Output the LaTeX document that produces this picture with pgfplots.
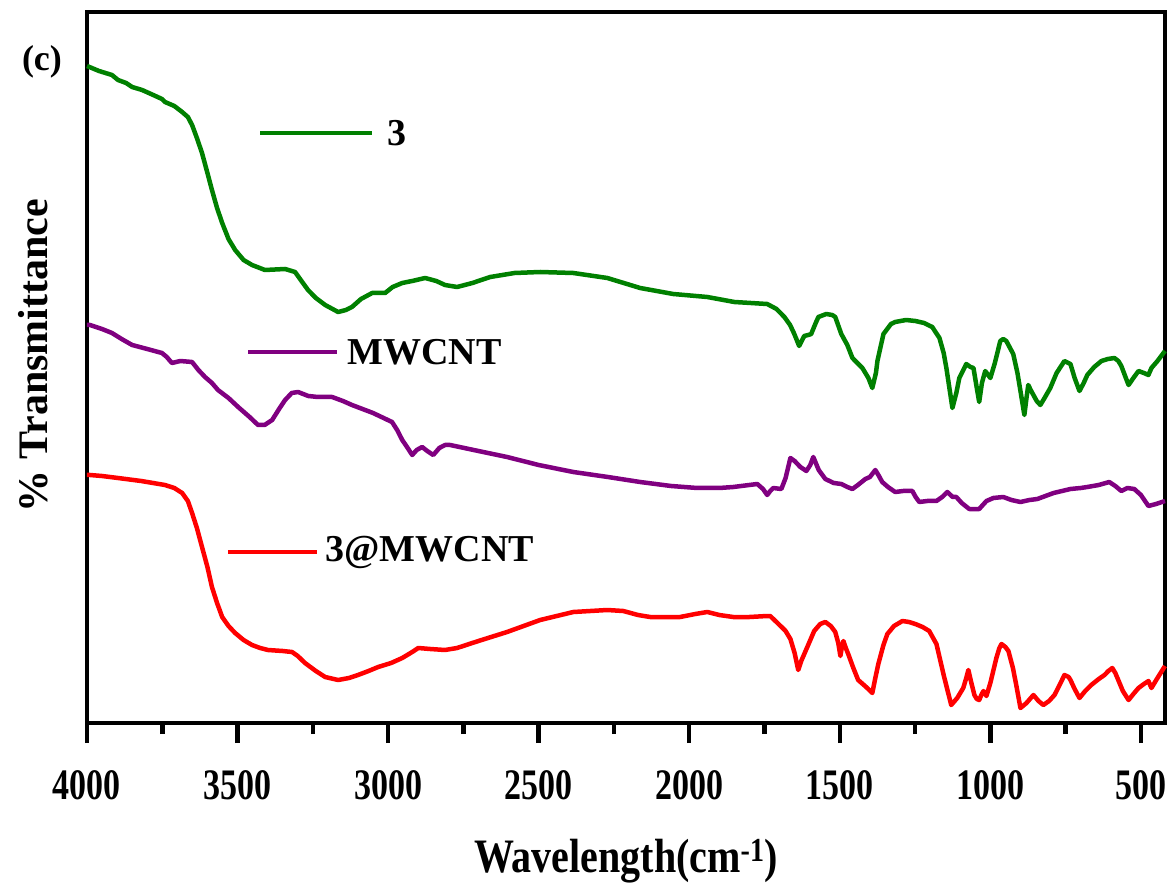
\documentclass[border=0pt]{standalone}
\usepackage{pgfplots}
\pgfplotsset{compat=1.18}
\usepackage{fontspec}
\setmainfont{Liberation Serif}

\definecolor{spgreen}{RGB}{0,128,0}
\definecolor{sppurple}{RGB}{128,0,128}
\definecolor{spred}{RGB}{255,0,0}

\begin{document}
\begin{tikzpicture}
\useasboundingbox (-87pt,-160pt) rectangle (1087pt,723pt);
\begin{axis}[
  scale only axis,
  width=1078pt, height=711pt,
  x dir=reverse,
  xmin=420, xmax=4000, ymin=0, ymax=711,
  xtick={500,1000,...,4000},
  minor x tick num=1,
  ytick=\empty,
  xtick pos=bottom,
  tick align=outside,
  major tick length=20pt,
  minor tick length=11pt,
  every tick/.style={black, line width=4.5pt},
  axis line style={line width=4.5pt},
  scaled x ticks=false,
  /pgf/number format/1000 sep={},
  /pgf/number format/assume math mode=true,
  xticklabel={\scalebox{1}[1.28]{\pgfmathprintnumber{\tick}}},
  ticklabel style={font=\fontsize{34}{34}\selectfont\bfseries},
  xticklabel style={yshift=-24pt},
  clip=false,
  every axis plot/.append style={line width=4.5pt, line join=round},
]
% compound 3
\addplot[spgreen] coordinates {
(4000,657) (3960,652) (3917,648) (3897,643) (3870,640) (3850,636) (3817,633)
(3780,628) (3751,624) (3741,621) (3710,617) (3684,611) (3665,606) (3651,598)
(3635,585) (3618,570) (3600,550) (3585,533) (3568,515) (3551,500) (3530,484)
(3508,473) (3480,463) (3452,458) (3409,453) (3342,454) (3309,451) (3290,443)
(3266,433) (3240,425) (3209,418) (3166,411) (3140,413) (3120,416) (3090,424)
(3053,430) (3010,430) (2985,436) (2953,440) (2920,442) (2877,445) (2840,442)
(2811,438) (2771,436) (2720,440) (2661,446) (2580,450) (2495,451) (2385,450)
(2272,445) (2163,435) (2053,429) (1940,426) (1850,421) (1741,419) (1710,414)
(1684,406) (1665,398) (1651,389) (1635,377) (1618,387) (1605,388) (1595,389)
(1580,400) (1571,406) (1545,409) (1525,408) (1515,406) (1495,389) (1475,378)
(1458,365) (1425,355) (1405,345) (1392,335) (1380,350) (1375,362) (1355,389)
(1330,399) (1316,401) (1280,403) (1249,402) (1220,400) (1193,396) (1169,385)
(1155,370) (1146,355) (1126,315) (1113,330) (1103,345) (1080,359) (1066,356)
(1056,355) (1045,335) (1037,321) (1028,340) (1017,352) (1000,345) (985,360)
(967,382) (957,384) (947,382) (924,369) (910,350) (900,332) (887,308)
(880,325) (874,338) (866,333) (857,328) (846,322) (834,318) (820,325)
(801,335) (780,350) (754,362) (734,359) (720,345) (704,332) (690,340)
(678,348) (655,356) (631,362) (610,364) (588,365) (575,362) (565,357)
(550,345) (541,338) (525,345) (508,352) (490,350) (475,348) (465,355)
(445,362) (420,372)
};
% MWCNT
\addplot[sppurple] coordinates {
(4000,398) (3990,398) (3950,394) (3917,390) (3885,384) (3850,378) (3800,374)
(3751,370) (3735,366) (3718,360) (3690,362) (3651,361) (3630,353) (3608,346)
(3585,340) (3565,333) (3530,325) (3498,316) (3460,306) (3432,298) (3410,298)
(3385,303) (3360,315) (3342,323) (3320,330) (3299,331) (3265,327) (3233,326)
(3186,326) (3150,322) (3120,318) (3050,310) (2987,301) (2970,293) (2953,283)
(2935,275) (2920,268) (2905,273) (2887,276) (2870,272) (2850,268) (2830,275)
(2811,278) (2794,278) (2700,272) (2605,266) (2500,258) (2385,251) (2270,246)
(2163,241) (2060,237) (1973,235) (1900,235) (1854,236) (1774,239) (1755,234)
(1741,228) (1731,232) (1721,235) (1694,234) (1680,245) (1664,265) (1650,262)
(1631,256) (1611,252) (1598,258) (1588,266) (1570,253) (1548,244) (1520,240)
(1495,239) (1475,236) (1458,234) (1440,238) (1415,244) (1400,246) (1382,253)
(1370,247) (1359,241) (1340,236) (1316,231) (1290,232) (1259,232) (1248,226)
(1236,221) (1210,222) (1179,222) (1160,226) (1143,231) (1125,226) (1113,226)
(1095,220) (1070,214) (1050,214) (1037,214) (1025,218) (1013,222) (990,225)
(957,226) (930,223) (900,221) (870,223) (844,224) (790,230) (734,234)
(700,235) (678,236) (640,238) (605,241) (585,237) (565,232) (545,235)
(522,234) (500,228) (475,217) (450,219) (420,222)
};
% 3@MWCNT
\addplot[spred] coordinates {
(4000,248) (3990,248) (3950,247) (3897,245) (3820,242) (3741,238) (3710,235)
(3684,230) (3665,222) (3651,210) (3635,195) (3618,176) (3600,156) (3585,136)
(3568,120) (3551,106) (3530,97) (3508,90) (3480,83) (3452,78) (3425,75)
(3399,73) (3350,72) (3319,71) (3300,67) (3276,60) (3240,52) (3209,46)
(3166,43) (3130,45) (3100,48) (3065,52) (3033,56) (2990,60) (2953,65)
(2920,71) (2900,75) (2860,74) (2811,73) (2771,75) (2700,82) (2605,91)
(2495,103) (2385,111) (2272,113) (2219,112) (2170,108) (2130,106) (2080,106)
(2030,106) (1980,109) (1940,111) (1900,108) (1854,106) (1800,106) (1741,107)
(1731,107) (1700,98) (1680,92) (1664,84) (1650,70) (1638,53) (1628,62)
(1605,78) (1585,92) (1565,99) (1548,101) (1530,97) (1515,91) (1505,80)
(1498,67) (1493,76) (1488,82) (1480,75) (1472,69) (1455,55) (1439,43)
(1420,38) (1409,35) (1392,30) (1382,45) (1372,59) (1355,78) (1342,89)
(1320,97) (1292,102) (1270,101) (1249,99) (1225,96) (1203,92) (1179,79)
(1155,48) (1130,18) (1110,25) (1090,35) (1080,45) (1073,53) (1063,40)
(1053,28) (1045,24) (1037,23) (1030,28) (1023,32) (1013,27) (1000,40)
(980,65) (970,75) (963,79) (950,76) (940,72) (925,55) (914,38)
(900,15) (880,20) (857,28) (840,22) (824,18) (805,22) (787,28)
(770,38) (754,48) (740,46) (734,43) (720,34) (704,25) (685,32)
(665,38) (640,44) (621,48) (608,52) (595,55) (585,50) (578,45)
(560,32) (541,23) (525,29) (508,35) (490,39) (475,42) (465,35)
(445,45) (420,57)
};

% curve labels
\draw[spgreen, line width=4.5pt] (axis cs:3425,590) -- (axis cs:3053,590);
\node[anchor=west, inner sep=0pt, font=\fontsize{38}{38}\selectfont\bfseries] at (axis cs:3003,590) {3};
\draw[sppurple, line width=4.5pt] (axis cs:3465,371) -- (axis cs:3169,371);
\node[anchor=west, inner sep=0pt, font=\fontsize{38}{38}\selectfont\bfseries] at (axis cs:3136,371) {MWCNT};
\draw[spred, line width=4.5pt] (axis cs:3532,171) -- (axis cs:3236,171);
\node[anchor=west, inner sep=0pt, font=\fontsize{38}{38}\selectfont\bfseries] at (axis cs:3209,171) {3@MWCNT};

% axis titles and panel letter
\node[font=\fontsize{40}{40}\selectfont\bfseries] at (rel axis cs:0.5,0) [yshift=-138pt] {\scalebox{1}[1.2]{Wavelength(cm\textsuperscript{-1})}};
\node[xshift=-54pt, yshift=12pt, rotate=90, font=\fontsize{42}{42}\selectfont\bfseries] at (rel axis cs:0,0.5) {\% Transmittance};
\node[xshift=-45pt, yshift=-50pt, font=\fontsize{36}{36}\selectfont\bfseries] at (rel axis cs:0,1) {(c)};
\end{axis}
\end{tikzpicture}
\end{document}
